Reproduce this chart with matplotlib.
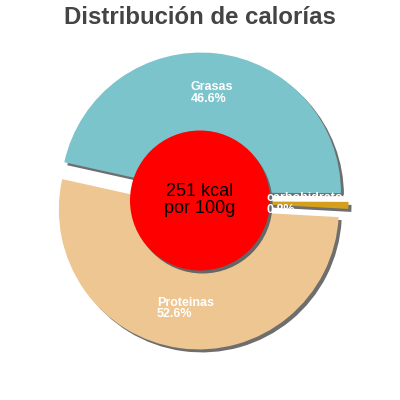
import matplotlib
matplotlib.use("Agg")
import matplotlib.pyplot as plt
import numpy as np
from matplotlib.patches import Circle, Rectangle

categories = ["Grasas", "carbohidratos", "Proteinas"]
values = [46.6, 0.8, 52.6]
pct_labels = ["46.6%", "0.8%", "52.6%"]
colors = ["#7bc4cc", "#d4a01c", "#eec692"]
title = "Distribución de calorías"
center_text = "251 kcal\npor 100g"

plt.rcParams['font.family'] = ['Liberation Sans', 'DejaVu Sans']

fig = plt.figure(figsize=(4, 4), dpi=100)
ax = fig.add_axes([0, 0, 1, 1])

cx, cy = 200, 199
R = 140
explode = [8.5] * len(values)
start = 167.5

# shadow
ax.pie(values, colors=['#666666'] * len(values), startangle=start, counterclock=False,
       radius=R, center=(cx + 3, cy - 3), explode=explode, frame=True,
       wedgeprops=dict(linewidth=0, alpha=0.95))
wedges, _ = ax.pie(values, colors=colors, startangle=start, counterclock=False,
                   radius=R, center=(cx, cy), explode=explode, frame=True,
                   wedgeprops=dict(linewidth=0))
ax.set_xlim(0, 400)
ax.set_ylim(0, 400)
ax.set_aspect('equal')
ax.axis('off')

# inner circle with shadow
ax.add_patch(Circle((cx + 2.5, cy - 2.5), 70, color='#666666', zorder=5, lw=0))
ax.add_patch(Circle((cx, cy + 0.5), 70, color='#ff0000', zorder=6, lw=0))
ax.text(cx, cy + 1, center_text, ha='center', va='center', fontsize=13,
        color='black', zorder=7, linespacing=1.0)

clip = Rectangle((0, 0), 345, 400, transform=ax.transData, visible=False)
ax.add_patch(clip)
for w, cat, p in zip(wedges, categories, pct_labels):
    mid = np.deg2rad((w.theta1 + w.theta2) / 2)
    wcx, wcy = w.center
    x = wcx + 100 * np.cos(mid)
    y = wcy + 100 * np.sin(mid)
    t = ax.text(x, y, f"{cat}\n{p}", ha='center', va='center', multialignment='left',
                fontsize=9, fontweight='bold', color='white', zorder=8, linespacing=0.95)
    t.set_clip_path(clip)
    t.set_clip_on(True)

fig.text(0.5, 1 - 17 / 400, title, ha='center', va='center', fontsize=17.3,
         fontweight='bold', color='#444444')

fig.savefig("out.png", dpi=100)
